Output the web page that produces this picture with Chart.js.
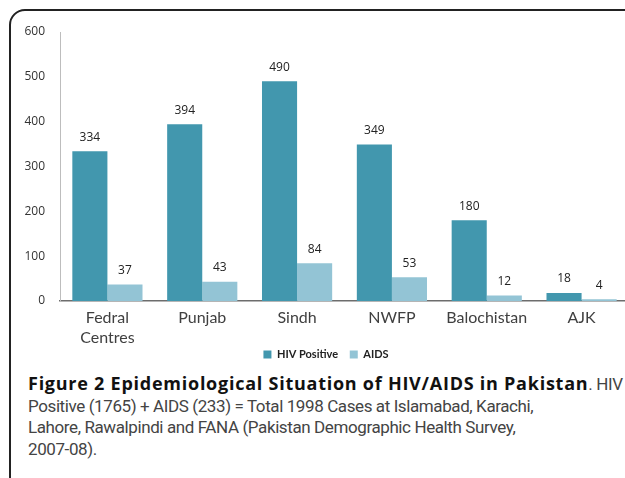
<!DOCTYPE html>
<html><head><meta charset="utf-8">
<script src="https://cdn.jsdelivr.net/npm/chart.js@4.4.1/dist/chart.umd.min.js"></script>
<style>
html,body{margin:0;padding:0;background:#fff;overflow:hidden;width:625px;height:478px}
#frame{position:absolute;left:9px;top:9px;width:720px;height:600px;border:2px solid #222;border-top-left-radius:16px;box-sizing:border-box}
#wrap{position:absolute;left:0;top:0;width:640px;height:370px}
#cap{position:absolute;left:28px;top:373px;font-family:'Roboto',sans-serif;font-size:17px;line-height:21.5px;color:#444;white-space:nowrap;letter-spacing:-0.4px}
#cap b{color:#111;font-family:'Open Sans',sans-serif;font-size:18px;letter-spacing:0.75px}
</style></head>
<body>
<div id="frame"></div>
<div id="wrap"><canvas id="c" width="640" height="370"></canvas></div>
<div id="cap"><b>Figure 2 Epidemiological Situation of HIV/AIDS in Pakistan</b>. HIV<br>Positive (1765) + AIDS (233) = Total 1998 Cases at Islamabad, Karachi,<br>Lahore, Rawalpindi and FANA (Pakistan Demographic Health Survey,<br>2007-08).</div>
<script>
const categories = [["Fedral","Centres"],"Punjab","Sindh","NWFP","Balochistan","AJK"];
const hivPositive = [334,394,490,349,180,18];
const aids = [37,43,84,53,12,4];
const seriesNames = ["HIV Positive","AIDS"];
const yMin = 0, yMax = 600, yStep = 100;

const valueLabels = {
  id:'valueLabels',
  afterDatasetsDraw(chart){
    const ctx = chart.ctx;
    ctx.save();
    ctx.font = "12px 'Open Sans'";
    ctx.fillStyle = '#222';
    ctx.textAlign = 'center';
    ctx.textBaseline = 'middle';
    chart.data.datasets.forEach((ds,i)=>{
      chart.getDatasetMeta(i).data.forEach((el,j)=>{
        ctx.fillText(String(ds.data[j]), el.x, el.y - 14);
      });
    });
    ctx.restore();
  }
};

new Chart(document.getElementById('c'),{
  type:'bar',
  data:{
    labels:categories,
    datasets:[
      {label:seriesNames[0],data:hivPositive,backgroundColor:'#4297ae',borderWidth:0},
      {label:seriesNames[1],data:aids,backgroundColor:'#93c4d5',borderWidth:0}
    ]
  },
  options:{
    responsive:false,
    animation:false,
    events:[],
    categoryPercentage:0.74,
    barPercentage:1,
    layout:{padding:{left:23,right:11,top:32,bottom:0}},
    plugins:{
      tooltip:{enabled:false},
      legend:{
        position:'bottom',
        labels:{
          boxWidth:8,boxHeight:8,padding:1,color:'#222',
          font:{family:'Lato',size:11,weight:'bold'},
          generateLabels(chart){
            const items = Chart.defaults.plugins.legend.labels.generateLabels(chart);
            items.forEach((it,i)=>{ if(i < items.length-1) it.text = it.text + '    '; });
            return items;
          }
        }
      }
    },
    scales:{
      x:{
        grid:{display:false,drawTicks:false,tickLength:0},
        border:{display:true,color:'#6d6d6d',width:1.5},
        ticks:{padding:7,color:'#404040',font:{family:'Lato',size:16,lineHeight:1.25},maxRotation:0,autoSkip:false},
        afterFit(s){ s.height = 47; }
      },
      y:{
        min:yMin,max:yMax,
        grid:{display:false,drawTicks:false},
        border:{display:true,color:'#bdbdbd',width:1},
        ticks:{stepSize:yStep,padding:15,color:'#333',font:{family:'Open Sans',size:12}},
        afterFit(s){ s.width = 37; }
      }
    }
  },
  plugins:[valueLabels]
});
</script>
</body></html>
